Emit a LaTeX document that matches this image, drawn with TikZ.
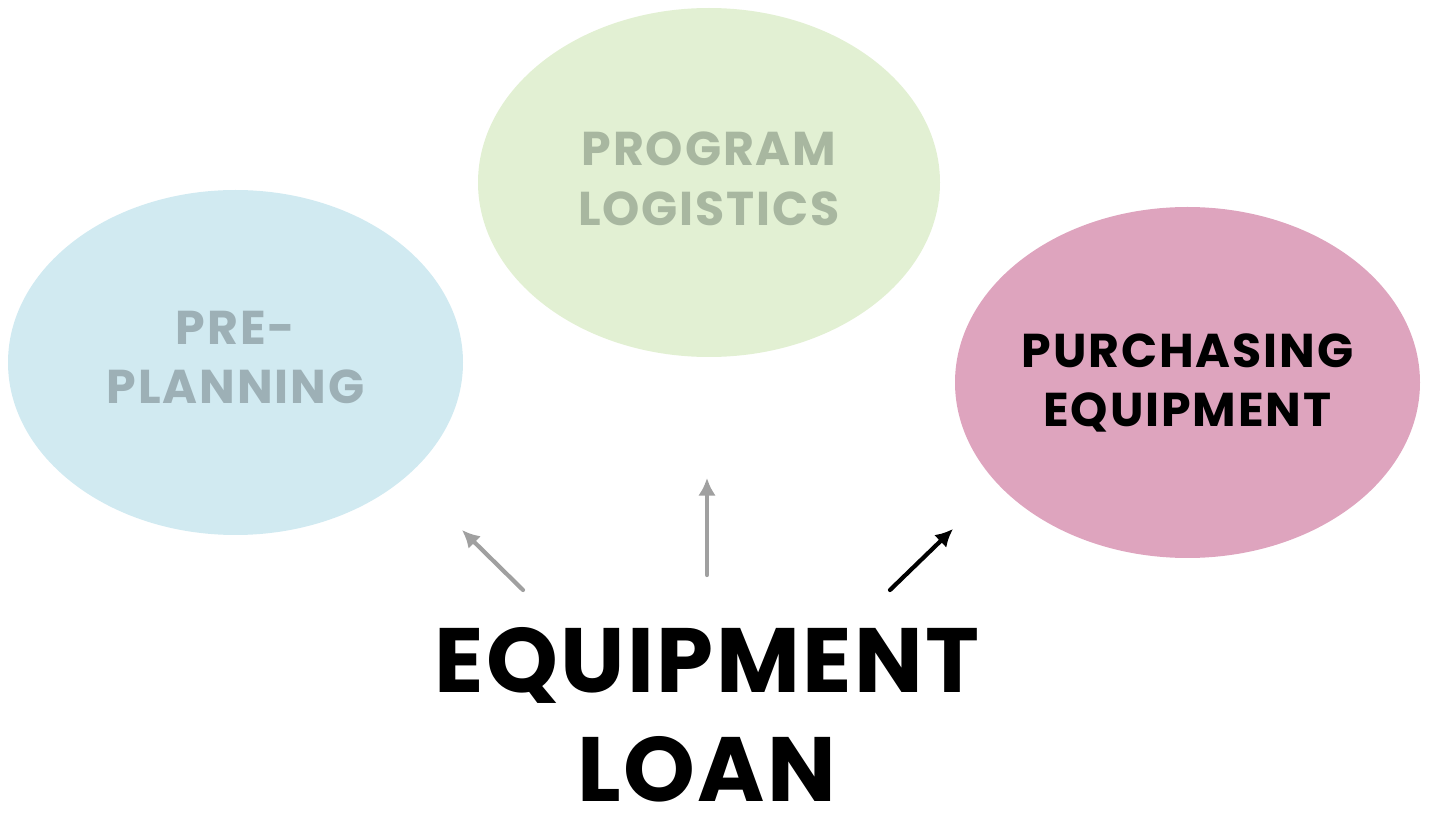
\documentclass[tikz,border=0pt]{standalone}
\usepackage{fontspec}
\setmainfont{Poppins}
\newfontfamily\bubblefont{Poppins}[LetterSpace=4]
\newfontfamily\loanfont{Poppins}[LetterSpace=2.5]
\usetikzlibrary{shapes.geometric, arrows.meta, positioning}
\definecolor{planfill}{RGB}{209,234,241}
\definecolor{plantext}{RGB}{157,176,182}
\definecolor{logfill}{RGB}{226,240,211}
\definecolor{logtext}{RGB}{168,183,160}
\definecolor{buyfill}{RGB}{222,164,190}
\definecolor{arrowgray}{RGB}{160,160,160}

\begin{document}
\begin{tikzpicture}
\tikzstyle{bubble} = [ellipse, inner sep=0pt]
\tikzstyle{caption} = [align=center, font=\bubblefont\fontsize{27}{34}\selectfont\bfseries]
\tikzstyle{line} = [draw, line width=2.4pt, line cap=round,
    -{Latex[length=10pt,width=10pt]}]
\useasboundingbox (0,0) rectangle (28.62,16.5);
    % Place nodes
    \node [bubble, fill=planfill, minimum width=9.1cm, minimum height=6.9cm]
        (preplan) at (4.71,9.25) {};
    \node [bubble, fill=logfill, minimum width=9.24cm, minimum height=6.98cm]
        (logistics) at (14.18,12.85) {};
    \node [bubble, fill=buyfill, minimum width=9.3cm, minimum height=7.02cm]
        (purchase) at (23.75,8.85) {};
    \node [caption, text=plantext] (preplantext) at (4.71,9.35) {PRE-\\PLANNING};
    \node [caption, text=logtext] (logisticstext) at (14.18,12.92) {PROGRAM\\LOGISTICS};
    \node [caption, text=black] (purchasetext) at (23.75,8.84) {PURCHASING\\EQUIPMENT};
    \node [align=center, inner sep=0pt, font=\loanfont\fontsize{52}{62}\selectfont\bfseries]
        (loan) at (14.14,2.2) {EQUIPMENT\\LOAN};

    % arrow ends
    \coordinate (lfrom) at (10.46,4.7);
    \coordinate (lto) at (9.24,5.9);
    \coordinate (mfrom) at (14.14,5.0);
    \coordinate (mto) at (14.14,6.94);
    \coordinate (rfrom) at (17.8,4.7);
    \coordinate (rto) at (19.06,5.92);

%paths
    \path [line, arrowgray] (lfrom) -- (lto);
    \path [line, arrowgray] (mfrom) -- (mto);
    \path [line, black] (rfrom) -- (rto);

\end{tikzpicture}
\end{document}
